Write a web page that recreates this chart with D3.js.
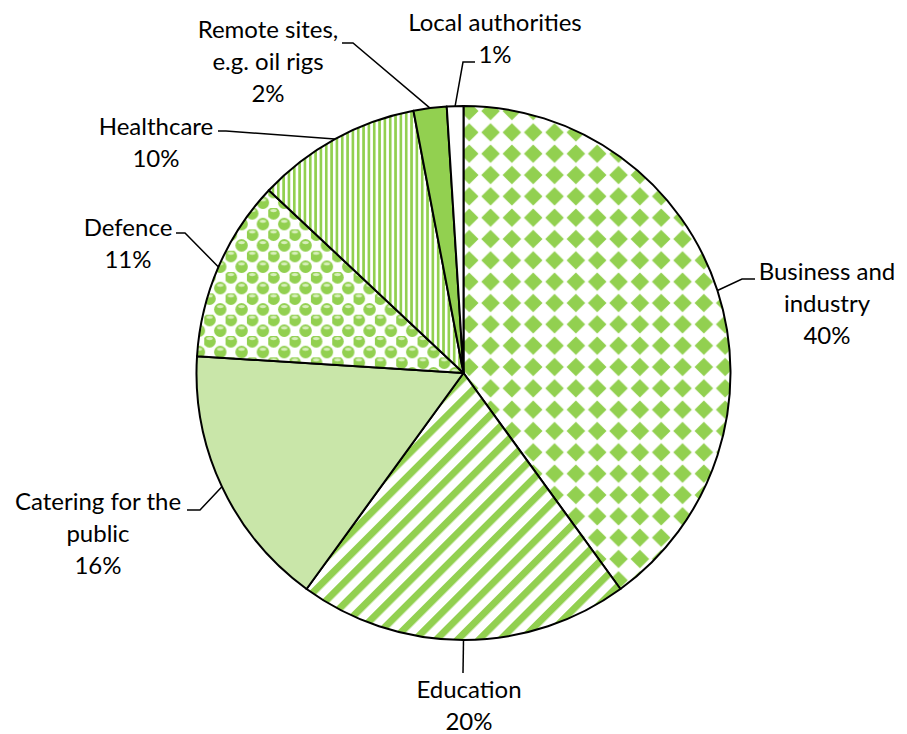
<!DOCTYPE html>
<html>
<head>
<meta charset="utf-8">
<script src="https://cdn.jsdelivr.net/npm/d3@7"></script>
<style>
  html, body { margin: 0; padding: 0; background: #ffffff; }
  svg { display: block; }
  text { font-family: "Lato", "Open Sans", sans-serif; fill: #000; }
</style>
</head>
<body>
<svg id="chart" width="907" height="734"></svg>
<script>
// Contract catering market by sector (share, %)
const categories = [
  "Business and\nindustry",
  "Education",
  "Catering for the\npublic",
  "Defence",
  "Healthcare",
  "Remote sites,\ne.g. oil rigs",
  "Local authorities"
];
const shares = [40, 20, 16, 11, 10, 2, 1];
const fills = ["diamonds", "diag", "solidLight", "spheres", "vstripes", "solidGreen", "white"];

// Label placement: first-line baseline, leader elbow and leader end
const labelX = [827, 469, 98, 128, 156, 268, 495];
const labelY = [280, 698, 510, 236, 135, 38, 31];
const elbowPts = [[742, 279], [463, 673], [200, 510], [185, 233], [226, 131], [353, 43], [463, 62]];
const endPts = [[755, 279], [463, 673], [187, 510], [176, 233], [218, 131], [342, 43], [475, 62]];

const cx = 463.5, cy = 373, R = 267;
const green = "#92D050", lightGreen = "#C9E6A9";
const lineH = 32;

const svg = d3.select("#chart");
const defs = svg.append("defs");

// Solid diamond pattern
const tile = 21.33;
const pDia = defs.append("pattern").attr("id", "diamonds")
  .attr("patternUnits", "userSpaceOnUse")
  .attr("x", 475 - tile / 2).attr("y", 122 - tile / 2)
  .attr("width", tile).attr("height", tile);
pDia.append("rect").attr("width", tile).attr("height", tile).attr("fill", "#fff");
const h = tile / 2, s = 9.3;
pDia.append("path").attr("fill", green)
  .attr("d", `M${h},${h - s}L${h + s},${h}L${h},${h + s}L${h - s},${h}Z`);

// Wide upward diagonal pattern
const pDiag = defs.append("pattern").attr("id", "diag")
  .attr("patternUnits", "userSpaceOnUse")
  .attr("width", 15.08).attr("height", 20)
  .attr("patternTransform", "rotate(45)");
pDiag.append("rect").attr("width", 15.08).attr("height", 20).attr("fill", "#fff");
pDiag.append("rect").attr("width", 7).attr("height", 20).attr("fill", green);

// Narrow vertical stripes
const pV = defs.append("pattern").attr("id", "vstripes")
  .attr("patternUnits", "userSpaceOnUse")
  .attr("width", 5.33).attr("height", 10);
pV.append("rect").attr("width", 5.33).attr("height", 10).attr("fill", "#fff");
pV.append("rect").attr("width", 2.67).attr("height", 10).attr("fill", green);

// Sphere pattern
const pS = defs.append("pattern").attr("id", "spheres")
  .attr("patternUnits", "userSpaceOnUse")
  .attr("x", 258 - tile / 4).attr("y", 267 - tile / 4)
  .attr("width", tile).attr("height", tile);
pS.append("rect").attr("width", tile).attr("height", tile).attr("fill", "#fff");
const q = tile / 4, q3 = tile * 3 / 4;
[[q, q], [q3, q3], [q3 - tile, q3 - tile], [q3, q3 - tile], [q3 - tile, q3]].forEach(([x, y]) => {
  pS.append("circle").attr("cx", x).attr("cy", y).attr("r", 6.2).attr("fill", green);
  pS.append("ellipse").attr("cx", x).attr("cy", y - 2.8).attr("rx", 3.2).attr("ry", 1.5).attr("fill", "#d8efbb");
});

const fillOf = f => ({
  diamonds: "url(#diamonds)",
  diag: "url(#diag)",
  vstripes: "url(#vstripes)",
  spheres: "url(#spheres)",
  solidLight: lightGreen,
  solidGreen: green,
  white: "#ffffff"
}[f]);

const data = categories.map((c, i) => ({ name: c, value: shares[i], fill: fills[i], i }));

const pie = d3.pie().value(d => d.value).sort(null);
const arcs = pie(data);
const arc = d3.arc().innerRadius(0).outerRadius(R);

// Slices (shifted by transform; patterns use page coordinates)
svg.selectAll("path.slice").data(arcs).join("path")
  .attr("class", "slice")
  .attr("d", arc)
  .attr("transform", `translate(${cx},${cy})`)
  .attr("fill", d => fillOf(d.data.fill))
  .attr("stroke", "#000").attr("stroke-width", 2).attr("stroke-linejoin", "round");

// Leader lines from each slice edge to its label
const edge = d => {
  const a = (d.startAngle + d.endAngle) / 2;
  return [cx + R * Math.sin(a), cy - R * Math.cos(a)];
};
svg.selectAll("path.leader").data(arcs).join("path")
  .attr("class", "leader")
  .attr("fill", "none").attr("stroke", "#000").attr("stroke-width", 1.5)
  .attr("d", d => d3.line()([edge(d), elbowPts[d.data.i], endPts[d.data.i]]));

// Labels: category name and share
const lab = svg.selectAll("text.lbl").data(arcs).join("text")
  .attr("class", "lbl")
  .attr("text-anchor", "middle")
  .attr("font-size", 24);
lab.each(function (d) {
  const lines = d.data.name.split("\n").concat([d.data.value + "%"]);
  const t = d3.select(this);
  lines.forEach((ln, k) => {
    t.append("tspan").attr("x", labelX[d.data.i]).attr("y", labelY[d.data.i] + k * lineH).text(ln);
  });
});
</script>
</body>
</html>
